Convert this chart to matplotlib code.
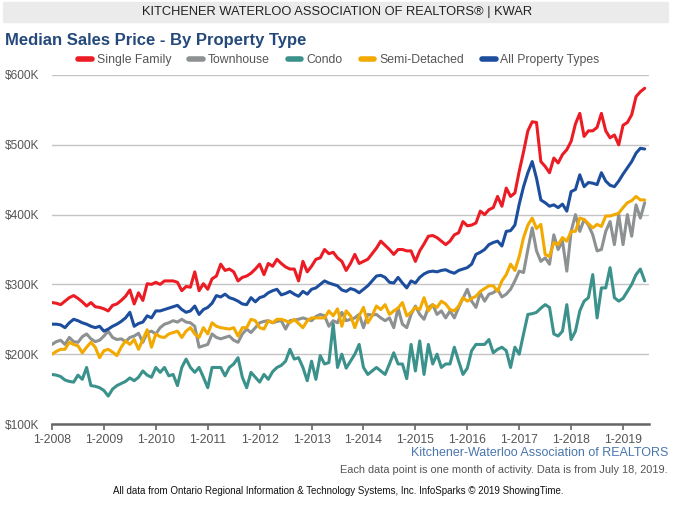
"""
KWAR median sales price by property type
"""
import matplotlib
matplotlib.use('Agg')
import matplotlib.pyplot as plt
from matplotlib.patches import Rectangle
from matplotlib.ticker import FuncFormatter

plt.rcParams['font.family'] = ['Liberation Sans', 'DejaVu Sans']

# monthly medians in $K, Jan 2008 .. Jun 2019
single_family = [
    274, 273, 271, 276, 281, 284, 280, 275, 269, 274, 268, 267,
    265, 262, 270, 272, 277, 283, 292, 272, 288, 277, 301, 300,
    303, 300, 305, 305, 305, 303, 291, 297, 296, 318, 291, 301,
    293, 308, 312, 329, 320, 322, 318, 305, 310, 312, 316, 322,
    329, 314, 330, 326, 336, 330, 325, 322, 322, 305, 333, 318,
    326, 336, 338, 350, 344, 346, 338, 333, 320, 330, 343, 330,
    333, 336, 344, 352, 362, 356, 350, 343, 350, 350, 348, 348,
    333, 348, 358, 369, 370, 367, 362, 357, 362, 371, 374, 390,
    384, 385, 388, 405, 400, 407, 410, 426, 412, 438, 426, 431,
    462, 490, 520, 533, 532, 476, 469, 460, 481, 474, 486, 493,
    505, 530, 545, 512, 520, 520, 525, 545, 520, 510, 514, 500,
    528, 532, 543, 569, 576, 581]
townhouse = [
    214, 218, 220, 214, 224, 218, 217, 225, 229, 222, 218, 220,
    226, 233, 224, 221, 222, 218, 224, 226, 230, 217, 231, 233,
    229, 238, 243, 245, 248, 246, 250, 246, 245, 240, 210, 212,
    214, 229, 224, 222, 224, 226, 220, 217, 229, 236, 231, 238,
    245, 247, 248, 245, 247, 248, 236, 248, 249, 250, 252, 250,
    248, 254, 257, 255, 240, 248, 245, 260, 248, 250, 252, 257,
    238, 257, 256, 257, 252, 248, 252, 238, 266, 243, 238, 257,
    269, 257, 250, 267, 271, 257, 262, 252, 262, 252, 267, 280,
    293, 276, 267, 288, 276, 286, 288, 293, 282, 286, 293, 305,
    319, 317, 350, 381, 348, 333, 338, 329, 371, 350, 362, 319,
    376, 400, 376, 393, 385, 371, 348, 350, 376, 390, 357, 400,
    357, 400, 369, 414, 395, 417]
condo = [
    171, 170, 168, 163, 161, 160, 170, 164, 181, 155, 154, 152,
    148, 140, 150, 155, 158, 161, 166, 162, 167, 176, 170, 167,
    181, 174, 181, 169, 171, 155, 181, 193, 181, 174, 181, 167,
    152, 181, 181, 181, 169, 181, 186, 195, 167, 152, 174, 167,
    160, 171, 164, 175, 181, 184, 190, 207, 193, 195, 181, 162,
    190, 164, 198, 186, 188, 243, 181, 200, 180, 190, 200, 214,
    181, 171, 176, 181, 176, 171, 186, 202, 186, 186, 165, 214,
    176, 219, 171, 214, 186, 200, 181, 186, 186, 210, 190, 171,
    180, 205, 214, 214, 214, 221, 202, 207, 210, 205, 181, 210,
    200, 229, 257, 258, 260, 266, 271, 267, 229, 226, 233, 271,
    221, 233, 262, 276, 281, 314, 252, 295, 295, 324, 281, 276,
    280, 290, 300, 314, 322, 305]
semi_detached = [
    200, 204, 207, 207, 217, 214, 212, 202, 210, 217, 210, 195,
    205, 207, 203, 198, 210, 219, 214, 221, 207, 221, 235, 210,
    229, 225, 224, 229, 231, 233, 224, 233, 238, 229, 224, 238,
    229, 245, 240, 238, 237, 236, 238, 226, 238, 238, 250, 248,
    238, 236, 248, 245, 250, 250, 248, 245, 250, 244, 238, 248,
    252, 252, 252, 252, 262, 255, 265, 240, 262, 255, 238, 255,
    267, 245, 255, 269, 264, 271, 257, 262, 266, 274, 255, 260,
    267, 264, 281, 262, 271, 267, 276, 272, 264, 262, 269, 281,
    276, 280, 283, 290, 294, 298, 298, 290, 305, 314, 329, 320,
    340, 367, 385, 395, 380, 386, 343, 340, 360, 357, 367, 362,
    376, 376, 395, 393, 387, 381, 386, 383, 398, 398, 400, 402,
    410, 417, 420, 426, 421, 421]
all_types = [
    243, 243, 242, 238, 245, 250, 248, 245, 243, 240, 238, 240,
    233, 236, 240, 243, 247, 252, 260, 240, 244, 246, 255, 252,
    262, 262, 264, 266, 268, 270, 264, 260, 262, 269, 257, 264,
    267, 273, 284, 282, 286, 281, 279, 276, 272, 271, 281, 275,
    281, 283, 288, 291, 293, 285, 287, 290, 286, 283, 290, 286,
    293, 295, 300, 305, 302, 300, 298, 292, 290, 294, 292, 288,
    293, 298, 305, 312, 313, 310, 303, 302, 310, 302, 295, 305,
    302, 310, 315, 318, 319, 318, 320, 321, 318, 316, 320, 322,
    324, 329, 343, 346, 350, 357, 360, 362, 355, 376, 377, 385,
    415, 440, 460, 476, 452, 421, 417, 412, 414, 410, 415, 405,
    433, 436, 457, 440, 446, 445, 443, 460, 448, 442, 440, 448,
    458, 467, 476, 488, 495, 494]

series = [
    ('Single Family', single_family, '#ec1c24'),
    ('Townhouse', townhouse, '#8d9192'),
    ('Condo', condo, '#3b918b'),
    ('Semi-Detached', semi_detached, '#f2a900'),
    ('All Property Types', all_types, '#1d4e9e'),
]
years = list(range(2008, 2020))

fig = plt.figure(figsize=(6.83, 5.27), dpi=100)
ax = fig.add_axes([52/683, 1-424/527, 597/683, 349/527])

for name, vals, color in series:
    ax.plot(range(len(vals)), vals, color=color, lw=2.2, label=name,
            solid_joinstyle='round', solid_capstyle='round')

ax.set_xlim(0, 138)
ax.set_ylim(100, 600)
ax.set_yticks(range(100, 601, 100))
ax.yaxis.set_major_formatter(FuncFormatter(lambda v, p: '$%dK' % v))
ax.set_xticks([12 * i for i in range(len(years))])
ax.set_xticklabels(['1-%d' % y for y in years])
ax.grid(axis='y', color='#c4c4c4', lw=1)
ax.set_axisbelow(True)
for s in ['top', 'right', 'left']:
    ax.spines[s].set_visible(False)
ax.spines['bottom'].set_color('#666666')
ax.spines['bottom'].set_linewidth(1.8)
ax.tick_params(axis='x', colors='#666666', length=4, width=1.2, labelsize=8.8,
               labelcolor='#555555', pad=3)
ax.tick_params(axis='y', length=0, labelsize=8.6, labelcolor='#555555', pad=9)

fig.legend(loc='center', bbox_to_anchor=(339/683, 1-60/527), ncol=5,
           frameon=False, fontsize=8.8, handlelength=1.1, handletextpad=0.4,
           columnspacing=1.5, labelcolor='#555555')
for line in fig.legends[0].get_lines():
    line.set_linewidth(4)

fig.patches.append(Rectangle((3/683, 1-22/527), 665/683, 20/527,
                             transform=fig.transFigure, color='#ebebeb', zorder=0))
fig.text(337/683, 1-12/527, 'KITCHENER WATERLOO ASSOCIATION OF REALTORS® | KWAR',
         ha='center', va='center', fontsize=9.3, color='#222222')
fig.text(5/683, 1-40/527, 'Median Sales Price - By Property Type',
         ha='left', va='center', fontsize=12, fontweight='bold', color='#24497a')
fig.text(668/683, 1-453/527, 'Kitchener-Waterloo Association of REALTORS',
         ha='right', va='center', fontsize=9, color='#4a76ad')
fig.text(668/683, 1-470/527,
         'Each data point is one month of activity. Data is from July 18, 2019.',
         ha='right', va='center', fontsize=7.9, color='#555555')
fig.text(338/683, 1-491/527,
         'All data from Ontario Regional Information & Technology Systems, Inc. '
         'InfoSparks © 2019 ShowingTime.',
         ha='center', va='center', fontsize=7, color='#111111')

fig.savefig('out.png', dpi=100)
